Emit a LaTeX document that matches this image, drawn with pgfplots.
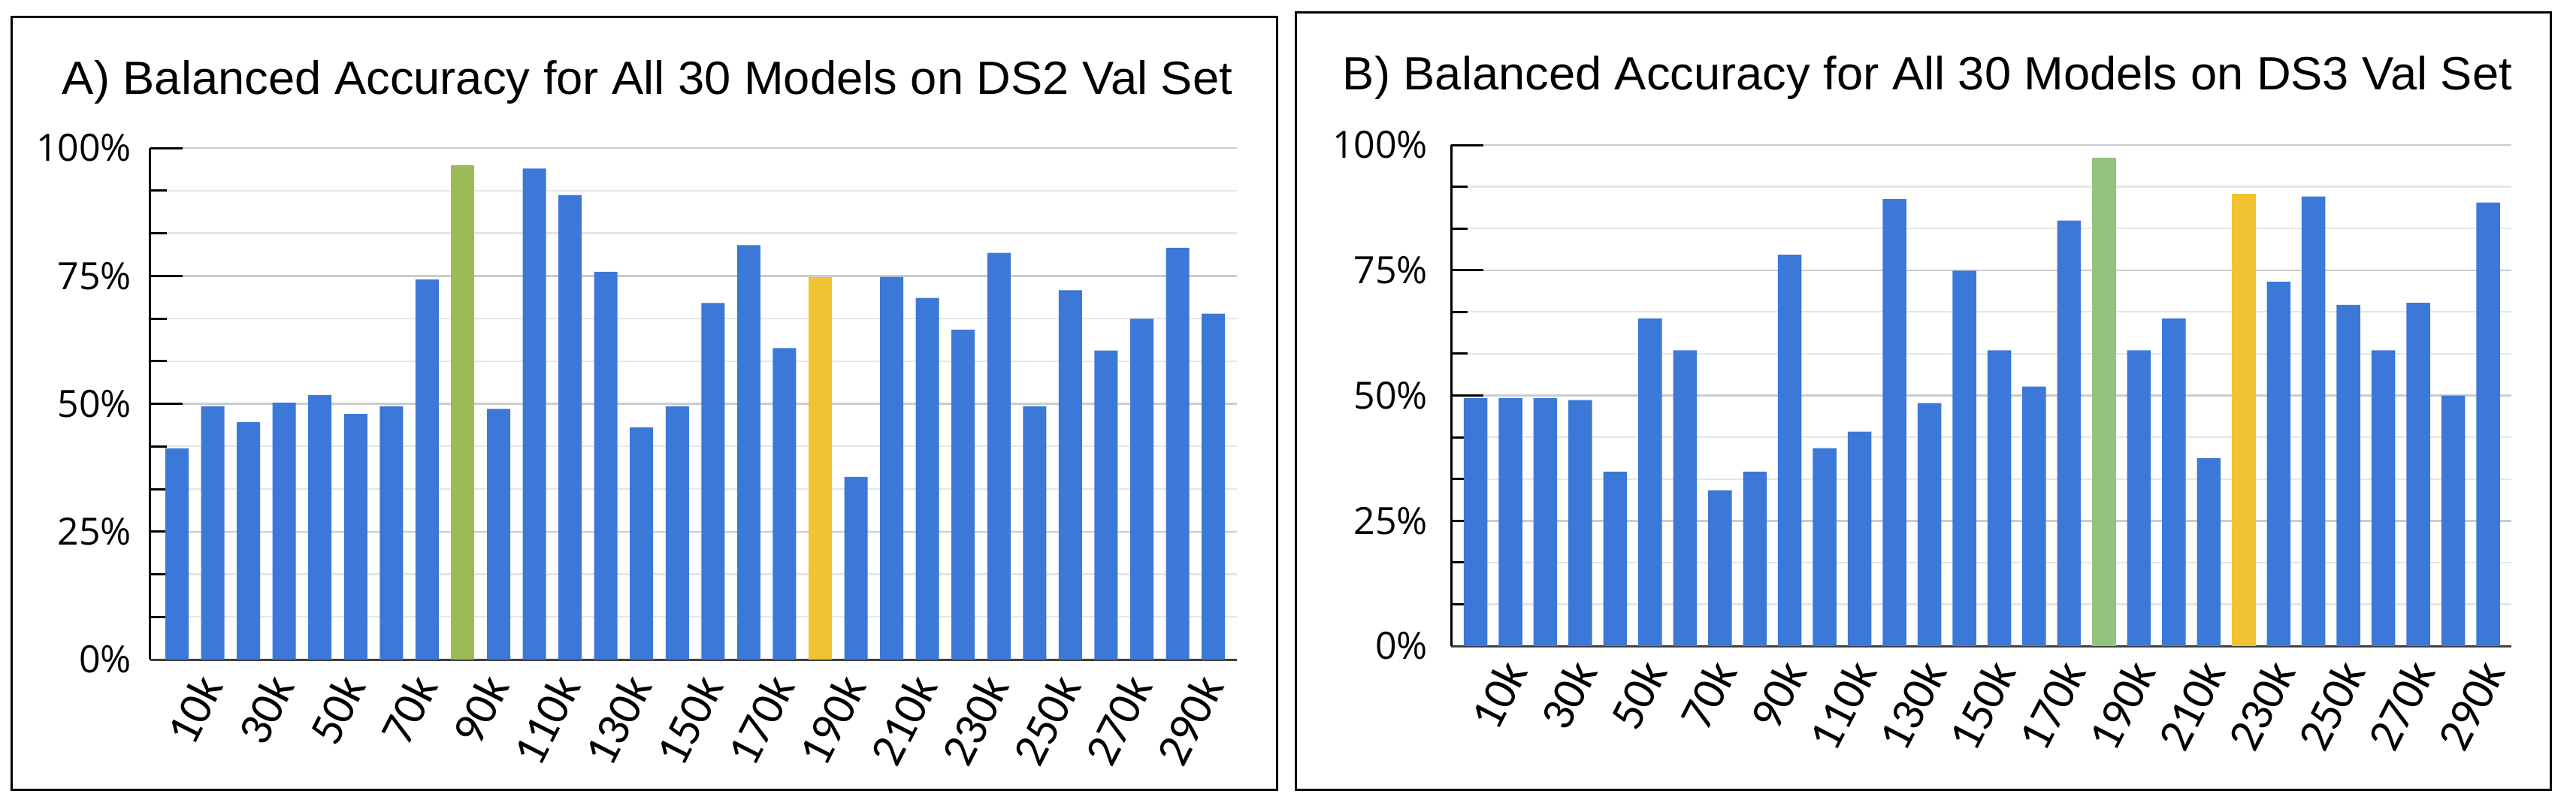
\documentclass[border=0pt]{standalone}
\usepackage{fontspec}
\usepackage{graphicx}
\usepackage{pgfplots}
\pgfplotsset{compat=1.18}
\setmainfont{Open Sans}
\newfontfamily\titlefont{Liberation Sans}
\newfontfamily\tickfont{Open Sans}
\newfontfamily\xtickfont{Carlito}
\definecolor{barblue}{HTML}{3C78D8}
\definecolor{bargreenA}{HTML}{9BBB59}
\definecolor{bargreenB}{HTML}{93C47D}
\definecolor{baryellow}{HTML}{F1C232}
\definecolor{majgrid}{HTML}{CCCCCC}
\definecolor{mingrid}{HTML}{E6E6E6}
\definecolor{baseline}{HTML}{404040}
\pgfplotsset{
  accstyle/.style={
    scale only axis,
    ybar, bar shift=0pt,
    ymin=0, ymax=100,
    axis x line*=bottom, axis y line*=left,
    x axis line style={draw=baseline, line width=0.6pt},
    y axis line style={draw=black, line width=0.6pt},
    ytick={0,25,50,75,100},
    yticklabels={0\%,25\%,50\%,75\%,100\%},
    minor ytick={8.3333,16.6667,33.3333,41.6667,58.3333,66.6667,83.3333,91.6667},
    ymajorgrids, yminorgrids,
    major grid style={draw=majgrid, line width=0.5pt},
    minor grid style={draw=mingrid, line width=0.45pt},
    tick align=inside,
    major tick length=8.6pt, minor tick length=4.4pt,
    ytick style={draw=black, line width=0.6pt},
    xtick style={draw=none},
    xtick={0,2,...,28},
    xticklabels={10k,30k,50k,70k,90k,110k,130k,150k,170k,190k,210k,230k,250k,270k,290k},
    yticklabel style={font=\tickfont\fontsize{10pt}{12pt}\selectfont, anchor=east, inner sep=0pt},
    xticklabel style={font=\xtickfont\fontsize{12.5pt}{14pt}\selectfont, rotate=63, anchor=north east, inner sep=0pt},
  }
}
\begin{document}
\begin{tikzpicture}
\path[use as bounding box] (0,0) rectangle (685.6pt,215.2pt);
\draw[line width=0.6pt] (3pt,5pt) rectangle (339.8pt,210.8pt);
\draw[line width=0.6pt] (344.8pt,5pt) rectangle (678.8pt,212pt);
\node[anchor=base] at (172.3pt,190.2pt) {\resizebox{311.4pt}{9pt}{\titlefont A) Balanced Accuracy for All 30 Models on DS2 Val Set}};
\node[anchor=base] at (513pt,191.4pt) {\resizebox{311.2pt}{9pt}{\titlefont B) Balanced Accuracy for All 30 Models on DS3 Val Set}};

\begin{axis}[accstyle, at={(40pt,39.6pt)}, anchor=south west,
  width=289.2pt, height=136.2pt, xmin=-0.747, xmax=29.66, bar width=6.2pt,
  yticklabel style={xshift=-4.8pt},
  xticklabel style={xshift=-0.4pt, yshift=-5.6pt}]
\addplot[fill=barblue, draw=none] coordinates {
(0,41.3) (1,49.5) (2,46.4) (3,50.2) (4,51.7) (5,48.0) (6,49.5) (7,74.3)
(9,49.0) (10,96.0) (11,90.8) (12,75.8) (13,45.4) (14,49.5) (15,69.7) (16,81.0) (17,60.9)
(19,35.7) (20,74.8) (21,70.7) (22,64.5) (23,79.5) (24,49.5) (25,72.2) (26,60.4) (27,66.6) (28,80.5) (29,67.6)};
\addplot[fill=bargreenA, draw=none] coordinates {(8,96.6)};
\addplot[fill=baryellow, draw=none] coordinates {(18,74.7)};
\end{axis}

\begin{axis}[accstyle, at={(386.2pt,43.2pt)}, anchor=south west,
  width=282.2pt, height=133.4pt, xmin=-0.70, xmax=29.667, bar width=6.3pt,
  yticklabel style={xshift=-6pt},
  xticklabel style={xshift=0.6pt, yshift=-6.8pt}]
\addplot[fill=barblue, draw=none] coordinates {
(0,49.5) (1,49.5) (2,49.5) (3,49.1) (4,34.8) (5,65.4) (6,59.0) (7,31.1) (8,34.8) (9,78.1)
(10,39.5) (11,42.8) (12,89.2) (13,48.5) (14,74.9) (15,59.0) (16,51.8) (17,84.9)
(19,59.0) (20,65.4) (21,37.5) (23,72.7) (24,89.7) (25,68.1) (26,59.0) (27,68.5) (28,50.0) (29,88.5)};
\addplot[fill=bargreenB, draw=none] coordinates {(18,97.5)};
\addplot[fill=baryellow, draw=none] coordinates {(22,90.2)};
\end{axis}
\end{tikzpicture}
\end{document}
